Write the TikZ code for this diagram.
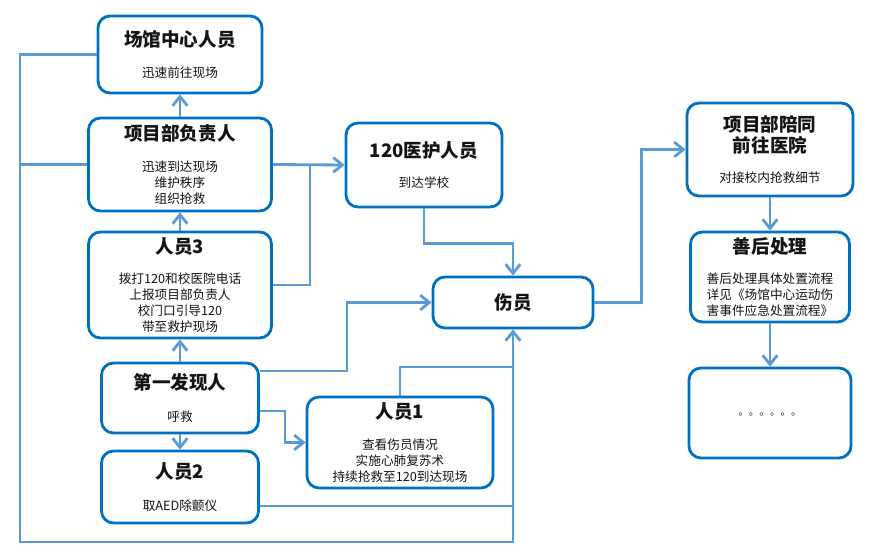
\documentclass[tikz,border=0pt]{standalone}
\usepackage{fontspec}
\setmainfont{Noto Sans CJK SC}
\usetikzlibrary{arrows.meta}
\definecolor{framec}{RGB}{0,112,192}
\definecolor{linkc}{RGB}{91,155,213}
\definecolor{inkc}{RGB}{20,20,20}
\newcommand{\ttl}{\fontsize{13.2pt}{15pt}\selectfont\bfseries}
\newcommand{\bdy}{\fontsize{9pt}{11.4pt}\selectfont}

\begin{document}
\begin{tikzpicture}[x=0.025cm, y=-0.025cm, line join=miter,
  card/.style={draw=framec, line width=2pt, rounded corners=0.3cm, fill=white,
    inner sep=0pt, align=center, text=inkc, font=\bdy},
  link/.style={draw=linkc, line width=2pt},
  arr/.style={link, -{Straight Barb[length=6.5pt, width=10.5pt]}}]
  \def\px{0.025cm}  % one pixel of the 871 x 557 frame
  \useasboundingbox (0,0) rectangle (871,557);

  % left column: venue staff down to person 2
  \node[card, minimum width=164*\px, minimum height=77*\px] (venue) at (180,54.5)
    {\ttl 场馆中心人员\\[10pt]\bdy 迅速前往现场};
  \node[card, minimum width=183*\px, minimum height=93*\px] (leader) at (180,164.5)
    {\ttl 项目部负责人\\[10pt]\bdy 迅速到达现场\\维护秩序\\组织抢救};
  \node[card, minimum width=183*\px, minimum height=106*\px] (p3) at (180,285)
    {\ttl 人员3\\[10pt]\bdy 拨打120和校医院电话\\上报项目部负责人\\校门口引导120\\带至救护现场};
  \node[card, minimum width=157*\px, minimum height=70*\px] (finder) at (180,398)
    {\ttl 第一发现人\\[12pt]\bdy 呼救};
  \node[card, minimum width=157*\px, minimum height=72*\px] (p2) at (180,487)
    {\ttl 人员2\\[11pt]\bdy 取AED除颤仪};

  % middle: 120 team, injured, person 1
  \node[card, minimum width=156*\px, minimum height=84*\px] (medic) at (424,165)
    {\ttl 120医护人员\\[10pt]\bdy 到达学校};
  \node[card, minimum width=160*\px, minimum height=51*\px] (injured) at (513,302.5)
    {\ttl 伤员};
  \node[card, minimum width=186*\px, minimum height=91*\px] (p1) at (400,442.5)
    {\ttl 人员1\\[11pt]\bdy 查看伤员情况\\实施心肺复苏术\\持续抢救至120到达现场};

  % right column: hospital and aftermath
  \node[card, minimum width=166*\px, minimum height=93*\px] (accomp) at (770,149.5)
    {\ttl 项目部陪同\\[1.5pt]\ttl 前往医院\\[10pt]\bdy 对接校内抢救细节};
  \node[card, minimum width=159*\px, minimum height=90*\px] (after) at (770,277)
    {\ttl 善后处理\\[10pt]\bdy 善后处理具体处置流程\\详见《场馆中心运动伤\\害事件应急处置流程》};
  \node[card, minimum width=162*\px, minimum height=90*\px] (dots) at (770,413)
    {\raisebox{-4pt}{\fontsize{7.5pt}{9pt}\selectfont 。。。。。。}};

  % left column arrows
  \draw[arr] (leader) -- (venue);
  \draw[arr] (p3) -- (leader);
  \draw[arr] (finder) -- (p3);
  \draw[arr] (finder) -- (p2);

  % outer loop round the left and bottom
  \coordinate (sw) at (20,542);
  \draw[arr] (venue.west) -| (sw) -| (injured.south);
  \draw[link] (leader.west) -- (leader.west -| sw);

  % calls to the 120 team
  \coordinate (mj) at (310,165);
  \draw[arr] (leader.east) -- (medic.west);
  \draw[link] (p3.east) -| (mj);
  \draw[arr] (medic.south) -- ++(0,35) -| (injured.north);

  % first finder branches
  \draw[arr] ([yshift=27*\px]finder.east) -- ++(87,0) |- (injured.west);
  \draw[arr] ([yshift=-13*\px]finder.east) -- ++(25,0) |- (p1.west);
  \coordinate (j1) at (513,367);
  \draw[link] (p1.north) |- (j1);
  \coordinate (p2o) at ([yshift=-19*\px]p2.east);
  \draw[link] (p2o) -- (p2o -| injured.south);

  % hospital chain
  \draw[arr] (injured.east) -- ++(47,0) |- (accomp.west);
  \draw[arr] (accomp) -- (after);
  \draw[arr] (after) -- (dots);
\end{tikzpicture}
\end{document}
